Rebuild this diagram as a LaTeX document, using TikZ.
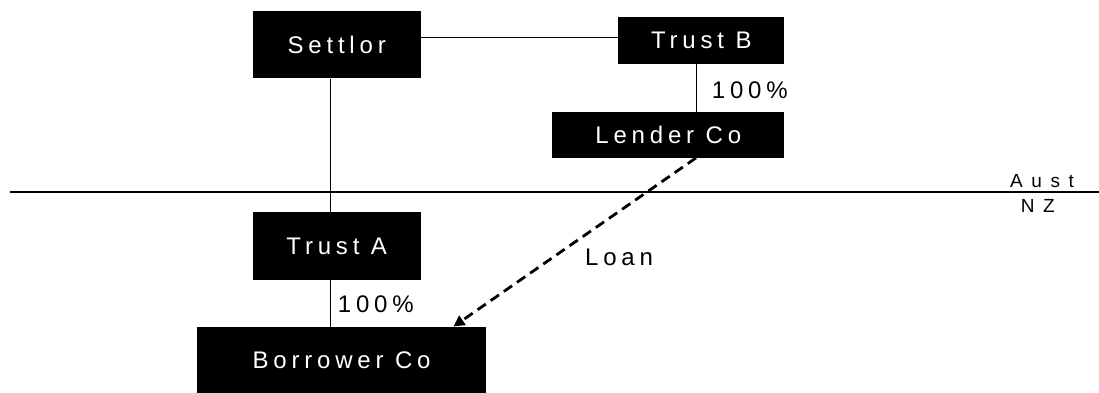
\documentclass[tikz,border=0pt]{standalone}
\usepackage{fontspec}
\usepackage{tikz}
\usetikzlibrary{calc,arrows.meta}
\newfontfamily\spaced[LetterSpace=20]{Liberation Sans}
\newfontfamily\widespaced[LetterSpace=45]{Liberation Sans}

\begin{document}
\begin{tikzpicture}[x=1pt,y=-1pt,
  entity/.style={fill=black,text=white,inner sep=0pt,font=\spaced\fontsize{24}{28}\selectfont},
  lbl/.style={inner sep=0pt,anchor=west,font=\spaced\fontsize{24}{28}\selectfont},
  side/.style={inner sep=0pt,anchor=west,font=\widespaced\fontsize{19}{22}\selectfont},
  link/.style={line width=0.8pt},
  loan/.style={line width=2.8pt,dash pattern=on 10pt off 6pt,-{Triangle[length=11pt,width=11pt]}}]
\useasboundingbox (0,0) rectangle (1099,392);
\draw[line width=1.8pt] (10,192) coordinate (bl) -- (1099,192) coordinate (br);
% entities
\node[entity,minimum width=168pt,minimum height=67.6pt] (st) at (336.7,44.5) {Settlor};
\node[entity,minimum width=166pt,minimum height=46.7pt] (tb) at (701.3,40.7) {Trust B};
\node[entity,minimum width=232pt,minimum height=46pt] (lc) at (668.3,134.7) {Lender Co};
\node[entity,minimum width=168pt,minimum height=68pt] (ta) at (336.7,246) {Trust A};
\node[entity,minimum width=288.7pt,minimum height=68pt] (bc) at (341.6,360.7) {Borrower Co};
\coordinate (sa) at (330.7,0);
\coordinate (sb) at (696,0);
% links
\draw[link] (tb.west |- 0,37.7) -- (st.east |- 0,37.7);
\draw[link] (st.south -| sa) -- (ta.north -| sa);
\draw[link] (ta.south -| sa) -- (bc.north -| sa);
\draw[link] (tb.south -| sb) -- (lc.north -| sb);
\draw[loan] (lc.south -| sb) -- ($(bc.north west)!0.887!(bc.north east)$);
% labels
\node[lbl] (pb) at (711.7,90.3) {100\%};
\node[lbl] (pa) at (337.7,304) {100\%};
\node[lbl] (ln) at (585,257.3) {Loan};
\node[side] (au) at (1010,181) {Aust};
\node[side] (nz) at (1020.7,206) {NZ};
\end{tikzpicture}
\end{document}
